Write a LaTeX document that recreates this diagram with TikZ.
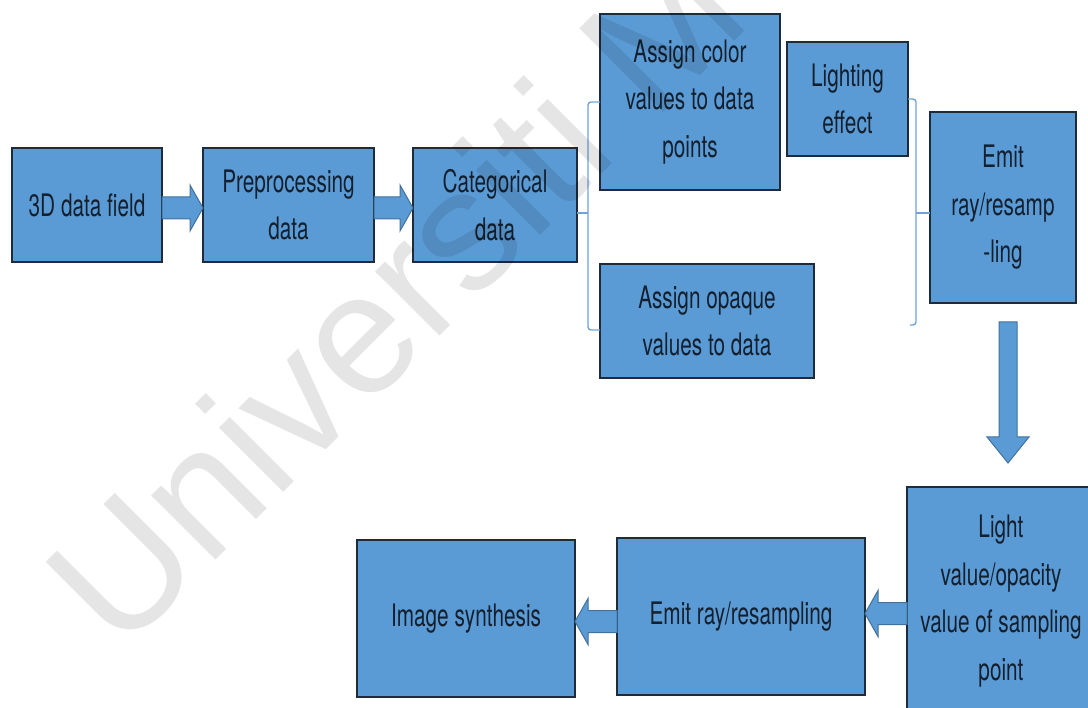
\documentclass[tikz,border=0pt]{standalone}
\usepackage{fontspec}
\setmainfont{TeX Gyre Heros}[FakeStretch=0.67]
\newfontfamily\wmfont{Liberation Sans}
\usetikzlibrary{calc}

\definecolor{boxfill}{HTML}{5B9BD5}
\definecolor{boxline}{HTML}{1E2B3A}
\definecolor{boxtext}{HTML}{14202E}
\definecolor{arrowline}{HTML}{41719C}
\definecolor{bracecol}{HTML}{6FA3D8}

\tikzset{
  stepbox/.style={draw=boxline, fill=boxfill, line width=2.2pt, text=boxtext,
    align=center, inner sep=0pt, outer sep=0pt,
    font=\fontsize{31}{47.5}\selectfont},
  blockarrow/.style={fill=boxfill, draw=arrowline, line width=1pt, line join=miter},
  brace/.style={draw=bracecol, line width=1.4pt, rounded corners=3pt},
  watermark/.style={text=black!10, inner sep=0pt, font=\wmfont\fontsize{172}{172}\selectfont},
}

% horizontal block arrow: tail #1, tip #2, direction #3 (1 = right, -1 = left)
\newcommand\harrow[3]{%
  \path[blockarrow] ($(#1)+(0,-11)$) -- ($(#2)+({-13*#3},-11)$) -- ($(#2)+({-13*#3},-23)$)
    -- (#2) -- ($(#2)+({-13*#3},23)$) -- ($(#2)+({-13*#3},11)$) -- ($(#1)+(0,11)$) -- cycle;}
% downward block arrow: tail #1, tip #2
\newcommand\varrow[2]{%
  \path[blockarrow] ($(#1)+(-9,0)$) -- ($(#2)+(-9,-26)$) -- ($(#2)+(-21,-26)$)
    -- (#2) -- ($(#2)+(21,-26)$) -- ($(#2)+(9,-26)$) -- ($(#1)+(9,0)$) -- cycle;}

\begin{document}
\begin{tikzpicture}[x=1pt, y=-1pt]
\useasboundingbox (0,0) rectangle (1088,708);
\clip (0,0) rectangle (1088,708);
\fill[white] (0,0) rectangle (1088,708);

% process boxes
\node[stepbox, minimum width=150pt, minimum height=114pt] (b1) at (87,205) {3D data field};
\node[stepbox, minimum width=171pt, minimum height=114pt] (b2) at (288.5,205) {Preprocessing\\data};
\node[stepbox, minimum width=164pt, minimum height=114pt] (b3) at (495,205) {Categorical\\data};
\node[stepbox, minimum width=180pt, minimum height=176pt] (ac) at (690,102) {Assign color\\values to data\\points};
\node[stepbox, minimum width=121pt, minimum height=114pt] (le) at (847.5,99) {Lighting\\effect};
\node[stepbox, minimum width=214pt, minimum height=114pt] (op) at (707,321) {Assign opaque\\values to data};
\node[stepbox, minimum width=146pt, minimum height=191pt] (em) at (1003,207.5) {Emit\\ray/resamp\\-ling};
\node[stepbox, minimum width=188pt, minimum height=228pt] (lv) at (1001,601) {Light\\value/opacity\\value of sampling\\point};
\node[stepbox, minimum width=248pt, minimum height=157pt] (er) at (741,616.5) {Emit ray/resampling};
\node[stepbox, minimum width=218pt, minimum height=157pt] (im) at (466,618.5) {Image synthesis};

% block arrows
\coordinate (a1t) at ($(b1.east)+(0,3)$);
\coordinate (a1h) at (b2.west |- a1t);
\harrow{a1t}{a1h}{1}
\coordinate (a2t) at ($(b2.east)+(0,3)$);
\coordinate (a2h) at (b3.west |- a2t);
\harrow{a2t}{a2h}{1}
\coordinate (a3t) at ($(em.south)+(5,19)$);
\coordinate (a3h) at ($(lv.north)+(7,-24)$);
\varrow{a3t}{a3h}
\coordinate (a4t) at ($(lv.west |- er.east)+(0,-3)$);
\coordinate (a4h) at ($(er.east)+(0,-3)$);
\harrow{a4t}{a4h}{-1}
\coordinate (a5t) at ($(er.west)+(0,5)$);
\coordinate (a5h) at (im.east |- a5t);
\harrow{a5t}{a5h}{-1}

% brackets
\coordinate (lb) at ($(b3.east |- op.west)+(11,9)$);
\draw[brace] (ac.west) -| (lb) -- ($(op.west)+(0,9)$);
\draw[brace] ($(b3.east)+(0,8)$) -- ++(11,0);
\coordinate (rb) at ($(le.east)+(8,226)$);
\coordinate (rbend) at ($(rb)+(-6,0)$);
\draw[brace] (le.east) -| (rb) -- (rbend);
\draw[brace] ($(em.west)+(0,5.5)$) -- ++(-14,0);

% watermark
\begin{scope}[blend mode=multiply]
\node[watermark, rotate=45, anchor=base west] (wm) at (120,656) {Universiti M};
\end{scope}
\end{tikzpicture}
\end{document}
